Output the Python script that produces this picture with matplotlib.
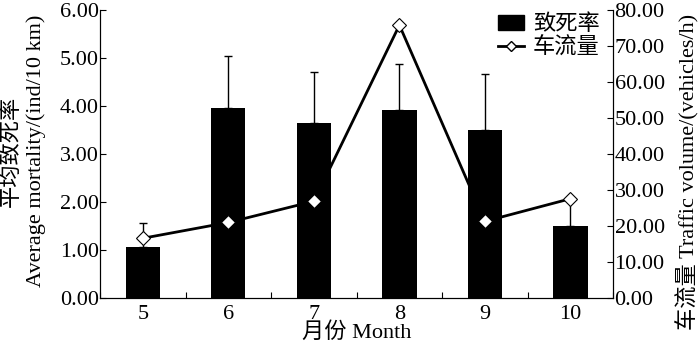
import matplotlib
matplotlib.use("Agg")
import matplotlib.pyplot as plt
from matplotlib.lines import Line2D
from matplotlib.patches import Patch
import numpy as np

plt.rcParams['font.family'] = ['Liberation Serif', 'Noto Sans CJK SC']
plt.rcParams['font.size'] = 16

# Data
months = ["5", "6", "7", "8", "9", "10"]
mortality = [1.06, 3.96, 3.64, 3.91, 3.50, 1.50]
mortality_err = [0.50, 1.08, 1.07, 0.96, 1.16, 0.55]
traffic = [16.5, 20.9, 26.8, 75.8, 21.2, 27.5]

x = np.arange(len(months))

fig = plt.figure(figsize=(7.0, 3.46), dpi=100)
ax = fig.add_axes([0.143, 0.140, 0.733, 0.831])
ax2 = ax.twinx()

# line under the bars, markers on top
ax.set_zorder(2)
ax2.set_zorder(1)
ax.patch.set_visible(False)

ax2.plot(x, traffic, color="black", lw=2, zorder=1)
ax.bar(x, mortality, width=0.4, color="black", zorder=2)
ax.errorbar(x, mortality, yerr=[np.zeros(len(x)), mortality_err], fmt="none",
            ecolor="black", elinewidth=1, capsize=3, capthick=1, zorder=3)
# traffic markers drawn in left-axis units so they sit above the bars
ax.plot(x, np.array(traffic) * 6.0 / 80.0, linestyle="none", marker="D", ms=7,
        mfc="white", mec="black", mew=0.8, zorder=4)

ax.set_xlim(-0.5, 5.5)
ax.set_ylim(0, 6)
ax2.set_ylim(0, 80)

ax.set_yticks(np.arange(0, 6.01, 1))
ax.set_yticklabels([f"{v:.2f}" for v in np.arange(0, 6.01, 1)])
ax2.set_yticks(np.arange(0, 80.1, 10))
ax2.set_yticklabels([f"{v:.2f}" for v in np.arange(0, 80.1, 10)])

ax.set_xticks(np.arange(-0.5, 5.6, 1))
ax.set_xticklabels([])
ax.set_xticks(x, minor=True)
ax.set_xticklabels(months, minor=True)
ax.tick_params(axis="x", which="major", direction="in", length=4)
ax.tick_params(axis="x", which="minor", length=0, pad=5)
ax.tick_params(axis="y", direction="in", length=4, pad=1)
ax2.tick_params(axis="y", direction="in", length=4, pad=1)

for a in (ax, ax2):
    a.spines["top"].set_visible(False)
    for s in ("left", "right", "bottom"):
        a.spines[s].set_linewidth(0.8)

ax.set_xlabel("月份 Month", labelpad=-1)
# two-line left label, one text per line
fig.text(0.016, 0.562, "平均致死率", rotation=90, ha="center", va="center", fontsize=16)
fig.text(0.052, 0.565, "Average mortality/(ind/10 km)", rotation=90,
         ha="center", va="center", fontsize=16)
fig.text(0.983, 0.503, "车流量 Traffic volume/(vehicles/h)", rotation=90,
         ha="center", va="center", fontsize=16)

handles = [Patch(facecolor="black", edgecolor="black"),
           Line2D([], [], color="black", lw=2, marker="D", ms=5, mfc="white", mec="black")]
ax.legend(handles, ["致死率", "车流量"], loc="upper right", bbox_to_anchor=(1.0, 1.03),
          frameon=False, handlelength=1.2, handletextpad=0.4, labelspacing=0.1,
          borderaxespad=0.2)

fig.savefig("out.png", dpi=100)
